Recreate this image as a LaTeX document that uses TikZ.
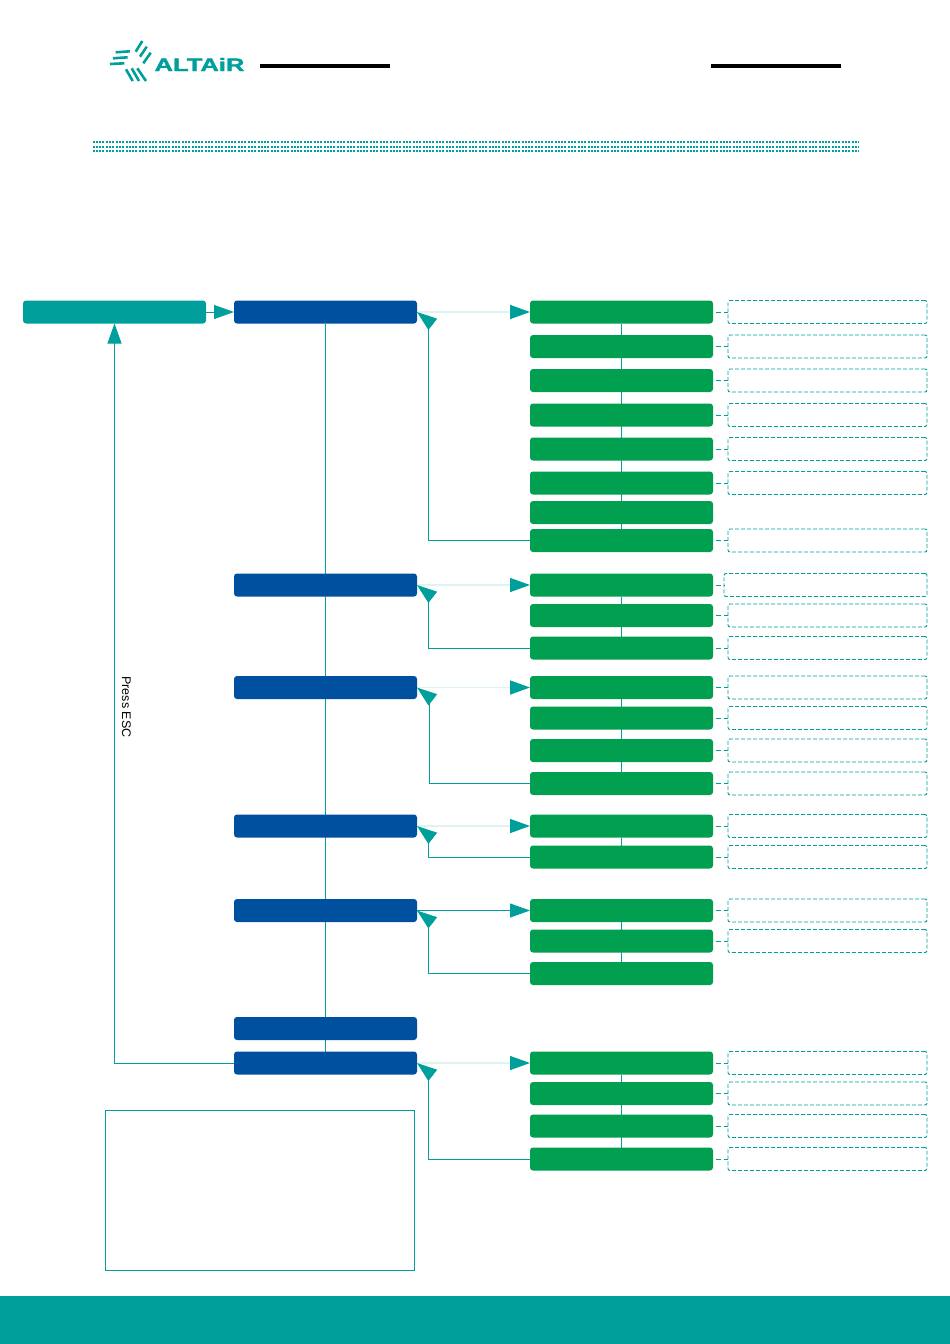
\documentclass[tikz,border=0pt]{standalone}
\usepackage{fontspec}
\setmainfont{Liberation Sans}
\newfontfamily\brandfont[BoldFeatures={FakeBold=1.5}]{Liberation Sans}
\usetikzlibrary{arrows.meta,backgrounds,positioning}
\definecolor{altteal}{HTML}{009F9C}
\definecolor{altpale}{HTML}{DFF3F2}
\definecolor{altblue}{HTML}{0050A0}
\definecolor{altgreen}{HTML}{00A050}
\tikzset{
  bar/.style={rectangle,rounded corners=3pt,inner sep=0pt,outer sep=0pt,minimum width=183pt,minimum height=23pt},
  head/.style={bar,fill=altteal},
  menu/.style={bar,fill=altblue},
  item/.style={bar,fill=altgreen},
  note/.style={rectangle,rounded corners=2pt,draw=altteal,line width=0.9pt,dash pattern=on 4pt off 2pt,inner sep=0pt,outer sep=0pt,minimum width=199pt,minimum height=23pt},
  tip/.style={-{Triangle[length=20pt,width=14pt,color=altteal]}},
  link/.style={draw=altteal,line width=0.9pt},
  pale/.style={tip,draw=altpale,line width=1.5pt},
  stub/.style={draw=altteal,line width=0.9pt,dash pattern=on 5pt off 3pt,shorten <=2.5pt},
  stripe/.style={draw=altteal,line width=2.6pt},
  dots/.style={draw=altteal,line width=2pt,dash pattern=on 2pt off 1.3pt}
}
\begin{document}
\begin{tikzpicture}[x=1pt,y=-1pt]
  \useasboundingbox (0,0) rectangle (950,1344);
  % header
  \node[inner sep=0pt,xscale=1.42,transform shape,text=altteal,font=\brandfont\bfseries\fontsize{18}{18}\selectfont] (brand) at (199.5,64.5) {ALTAiR};
  \draw[stripe] (115.7,52.3) -- (130,51.3);
  \draw[stripe] (113,58.3) -- (127.7,57.3);
  \draw[stripe] (110,64) -- (124.3,63.3);
  \draw[stripe] (142.3,41) -- (135.7,51.7);
  \draw[stripe] (146.7,46.7) -- (140,56.7);
  \draw[stripe] (150.7,52.7) -- (143.3,63.3);
  \draw[stripe] (126,69.3) -- (132.7,81);
  \draw[stripe] (131.7,68.3) -- (139,81);
  \draw[stripe] (137.3,68.3) -- (146,81);
  \fill (260,64) rectangle (390,67.5);
  \fill (711,64) rectangle (841,67.5);
  \draw[dots] (92.5,141.7) -- (859,141.7);
  \draw[dots] (92.5,146.7) -- (859,146.7);
  \draw[dots] (92.5,151) -- (859,151);
  \fill[altteal] (0,1296) rectangle (950,1344);

  % first column
  \node[head] (top) at (114.5,312) {};
  \node[menu,right=28pt of top] (m1) {};
  \node[menu,below=250pt of m1] (m2) {};
  \node[menu,below=79.5pt of m2] (m3) {};
  \node[menu,below=115.5pt of m3] (m4) {};
  \node[menu,below=61.5pt of m4] (m5) {};
  \node[menu,below=95pt of m5] (m6) {};
  \node[menu,below=11.5pt of m6] (m7) {};

  % items
  \node[item,right=113pt of m1] (a1) {};
  \node[item,below=11.5pt of a1] (a2) {};
  \node[item,below=11pt of a2] (a3) {};
  \node[item,below=11.5pt of a3] (a4) {};
  \node[item,below=11pt of a4] (a5) {};
  \node[item,below=11pt of a5] (a6) {};
  \node[item,below=6.5pt of a6] (a7) {};
  \node[item,below=5pt of a7] (a8) {};
  \node[item,right=113pt of m2] (b1) {};
  \node[item,below=7.5pt of b1] (b2) {};
  \node[item,below=9.5pt of b2] (b3) {};
  \node[item,right=113pt of m3] (c1) {};
  \node[item,below=7.5pt of c1] (c2) {};
  \node[item,below=9.5pt of c2] (c3) {};
  \node[item,below=10pt of c3] (c4) {};
  \node[item,right=113pt of m4] (d1) {};
  \node[item,below=8pt of d1] (d2) {};
  \node[item,right=113pt of m5] (e1) {};
  \node[item,below=7.5pt of e1] (e2) {};
  \node[item,below=9.5pt of e2] (e3) {};
  \node[item,right=113pt of m7] (f1) {};
  \node[item,below=7.5pt of f1] (f2) {};
  \node[item,below=9.5pt of f2] (f3) {};
  \node[item,below=10pt of f3] (f4) {};

  % dashed boxes
  \node[note,right=15pt of a1] (na1) {};
  \node[note,right=15pt of a2] (na2) {};
  \node[note,right=15pt of a3] (na3) {};
  \node[note,right=15pt of a4] (na4) {};
  \node[note,right=15pt of a5] (na5) {};
  \node[note,right=15pt of a6] (na6) {};
  \node[note,right=15pt of a8] (na8) {};
  \node[note,right=11pt of b1,minimum width=203pt] (nb1) {};
  \node[note,right=15pt of b2] (nb2) {};
  \node[note,right=15pt of b3] (nb3) {};
  \node[note,right=15pt of c1] (nc1) {};
  \node[note,right=15pt of c2] (nc2) {};
  \node[note,right=15pt of c3] (nc3) {};
  \node[note,right=15pt of c4] (nc4) {};
  \node[note,right=15pt of d1] (nd1) {};
  \node[note,right=15pt of d2] (nd2) {};
  \node[note,right=15pt of e1] (ne1) {};
  \node[note,right=15pt of e2] (ne2) {};
  \node[note,right=15pt of f1] (nf1) {};
  \node[note,right=15pt of f2] (nf2) {};
  \node[note,right=15pt of f3] (nf3) {};
  \node[note,right=15pt of f4] (nf4) {};

  % legend box and side label
  \node[rectangle,draw=altteal,line width=0.9pt,inner sep=0pt,minimum width=309pt,minimum height=160pt] (legend) at (259.5,1190) {};
  \node[rotate=-90,inner sep=0pt,font=\fontsize{12.5}{12.5}\selectfont] (esc) at (126.5,707) {Press ESC};

  % corners of the return lines and tails of their heads
  \coordinate (ra) at ([shift={(11.5,14)}]m1.east);
  \coordinate (rb) at ([shift={(11.5,14)}]m2.east);
  \coordinate (rc) at ([shift={(12.5,14)}]m3.east);
  \coordinate (rd) at ([shift={(11.5,14)}]m4.east);
  \coordinate (re) at ([shift={(11.5,14)}]m5.east);
  \coordinate (rf) at ([shift={(11.5,14)}]m7.east);
  \coordinate (ta) at ([shift={(16,12.5)}]m1.east);
  \coordinate (tb) at ([shift={(16,12.5)}]m2.east);
  \coordinate (tc) at ([shift={(16,12.5)}]m3.east);
  \coordinate (td) at ([shift={(16,12.5)}]m4.east);
  \coordinate (te) at ([shift={(16,12.5)}]m5.east);
  \coordinate (tf) at ([shift={(16,12.5)}]m7.east);

  % spines
  \begin{scope}[on background layer]
    \path[link] (m1) -- (m7);
    \path[link] (a1) -- (a8);
    \path[link] (b1) -- (b3);
    \path[link] (c1) -- (c4);
    \path[link] (d1) -- (d2);
    \path[link] (e1) -- (e3);
    \path[link] (f1) -- (f4);
  \end{scope}

  % forward arrows
  \path[link,tip] (top) edge (m1) (m5) edge (e1);
  \path[pale] (m1) edge (a1) (m2) edge (b1) (m3) edge (c1) (m4) edge (d1) (m7) edge (f1);

  % return lines
  \draw[link] (a8) -| (ra);
  \draw[link] (b3) -| (rb);
  \draw[link] (c4) -| (rc);
  \draw[link] (d2) -| (rd);
  \draw[link] (e3) -| (re);
  \draw[link] (f4) -| (rf);
  \draw[link,tip] (ta) -- (m1.east);
  \draw[link,tip] (tb) -- (m2.east);
  \draw[link,tip] (tc) -- (m3.east);
  \draw[link,tip] (td) -- (m4.east);
  \draw[link,tip] (te) -- (m5.east);
  \draw[link,tip] (tf) -- (m7.east);
  \draw[link,tip] (m7) -| (top);

  % stubs
  \path[stub]
    (a1) edge (na1) (a2) edge (na2) (a3) edge (na3) (a4) edge (na4)
    (a5) edge (na5) (a6) edge (na6) (a8) edge (na8)
    (b1) edge (nb1) (b2) edge (nb2) (b3) edge (nb3)
    (c1) edge (nc1) (c2) edge (nc2) (c3) edge (nc3) (c4) edge (nc4)
    (d1) edge (nd1) (d2) edge (nd2)
    (e1) edge (ne1) (e2) edge (ne2)
    (f1) edge (nf1) (f2) edge (nf2) (f3) edge (nf3) (f4) edge (nf4);
\end{tikzpicture}
\end{document}
